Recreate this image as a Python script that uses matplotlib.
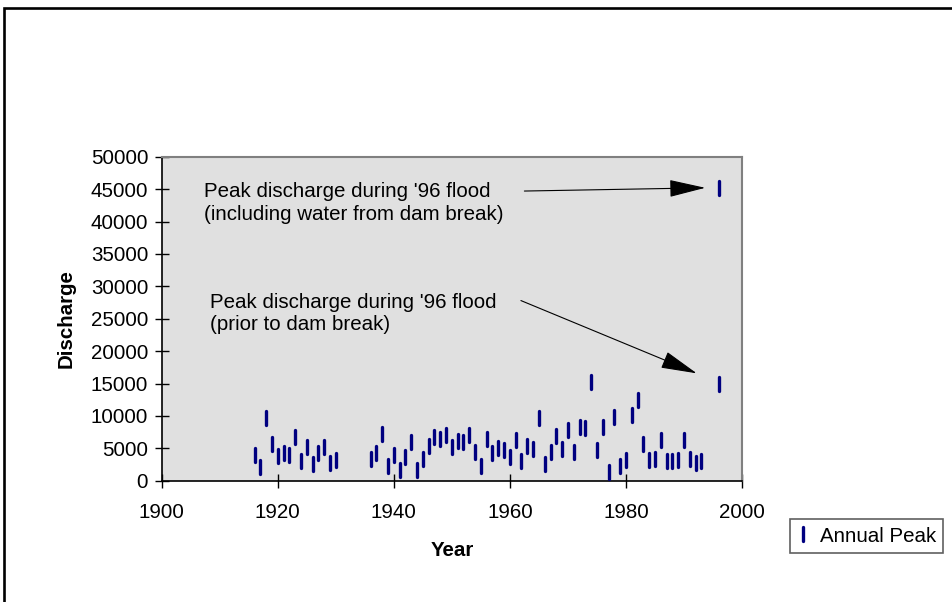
import matplotlib
matplotlib.use("Agg")
import matplotlib.pyplot as plt
from matplotlib.markers import MarkerStyle
from matplotlib.patches import Rectangle
from matplotlib.lines import Line2D

plt.rcParams['font.family'] = ['Liberation Sans', 'DejaVu Sans']

# Annual peak discharge record
years = [1916, 1917, 1918, 1919, 1920, 1921, 1922, 1923, 1924, 1925,
         1926, 1927, 1928, 1929, 1930,
         1936, 1937, 1938, 1939, 1940, 1941, 1942, 1943, 1944, 1945,
         1946, 1947, 1948, 1949, 1950, 1951, 1952, 1953, 1954, 1955,
         1956, 1957, 1958, 1959, 1960, 1961, 1962, 1963, 1964, 1965,
         1966, 1967, 1968, 1969, 1970, 1971, 1972, 1973, 1974, 1975,
         1976, 1977, 1978, 1979, 1980, 1981, 1982, 1983, 1984, 1985,
         1986, 1987, 1988, 1989, 1990, 1991, 1992, 1993, 1996, 1996]
peaks = [4000, 2100, 9600, 5700, 3800, 4200, 3900, 6700, 3000, 5200,
         2600, 4300, 5200, 2700, 3200,
         3400, 4200, 7200, 2200, 3900, 1700, 3700, 5900, 1600, 3400,
         5300, 6800, 6400, 7100, 5200, 6200, 5900, 7100, 4400, 2300,
         6400, 4200, 5100, 4700, 3700, 6300, 3000, 5300, 4900, 9700,
         2600, 4500, 6900, 4900, 7900, 4500, 8300, 8200, 15200, 4800,
         8300, 1400, 9900, 2200, 3200, 10200, 12400, 5700, 3200, 3300,
         6300, 3000, 3100, 3200, 6300, 3400, 2800, 3100, 15000, 45100]

x_ticks = [1900, 1920, 1940, 1960, 1980, 2000]
y_ticks = [0, 5000, 10000, 15000, 20000, 25000, 30000, 35000, 40000, 45000, 50000]

note_full = "Peak discharge during '96 flood\n(including water from dam break)"
note_prior = "Peak discharge during '96 flood\n(prior to dam break)"

W, H = 953, 602
fig = plt.figure(figsize=(W / 100, H / 100), dpi=100)
fig.patch.set_facecolor('white')

# outer chart frame (runs off the right and bottom edges)
fig.patches.append(Rectangle((4 / W, -0.1), 1.2, 1.1 - 8 / H,
                             transform=fig.transFigure, fill=False,
                             edgecolor='black', linewidth=1.9, zorder=0))

ax = fig.add_axes([161.7 / W, (H - 480.7) / H, (742.0 - 161.7) / W, 324.0 / H])
ax.set_facecolor('#E0E0E0')
ax.set_xlim(1900, 2000)
ax.set_ylim(0, 50000)
ax.set_xticks(x_ticks)
ax.set_yticks(y_ticks)

for side in ('top', 'right'):
    ax.spines[side].set_color('#808080')
    ax.spines[side].set_linewidth(1.5)
for side in ('left', 'bottom'):
    ax.spines[side].set_color('black')
    ax.spines[side].set_linewidth(1.2)

ax.tick_params(axis='both', direction='inout', length=9.5, width=1.0,
               labelsize=14.8, color='black')
ax.tick_params(axis='x', pad=11)
ax.tick_params(axis='y', pad=5)

ax.set_xlabel('Year', fontsize=14.8, fontweight='bold', labelpad=14)
ax.set_ylabel('Discharge', fontsize=14.8, fontweight='bold', labelpad=11)

bar_marker = MarkerStyle('|', capstyle='round')
ax.plot(years, peaks, linestyle='none', marker=bar_marker, markersize=10.5,
        markeredgewidth=2.4, color='#000080', zorder=3, clip_on=False)

arrow_style = dict(arrowstyle='-|>,head_length=2.3,head_width=0.55',
                   mutation_scale=10, color='black', linewidth=0.8,
                   shrinkA=0, shrinkB=0)
ax.annotate('', xy=(1993.67, 45200), xytext=(1962.5, 44700),
            arrowprops=arrow_style)
ax.annotate('', xy=(1992.2, 16570), xytext=(1961.9, 27800),
            arrowprops=arrow_style)

ax.text(1907.3, 42850, note_full, fontsize=14.8, ha='left', va='center',
        linespacing=1.25)
ax.text(1908.3, 25800, note_prior, fontsize=14.8, ha='left', va='center',
        linespacing=1.25)

handle = Line2D([], [], linestyle='none', marker=bar_marker, markersize=9.5,
                markeredgewidth=2.4, color='#000080')
leg = fig.legend([handle], ['Annual Peak'], loc='center',
                 bbox_to_anchor=(866.5 / W, 1 - 536 / H), fontsize=14.8,
                 frameon=True, fancybox=False, framealpha=1,
                 edgecolor='#606060', handlelength=0.6, handletextpad=0.5,
                 borderpad=0.35, borderaxespad=0)
leg.get_frame().set_linewidth(1.2)

fig.savefig('out.png', dpi=100)
